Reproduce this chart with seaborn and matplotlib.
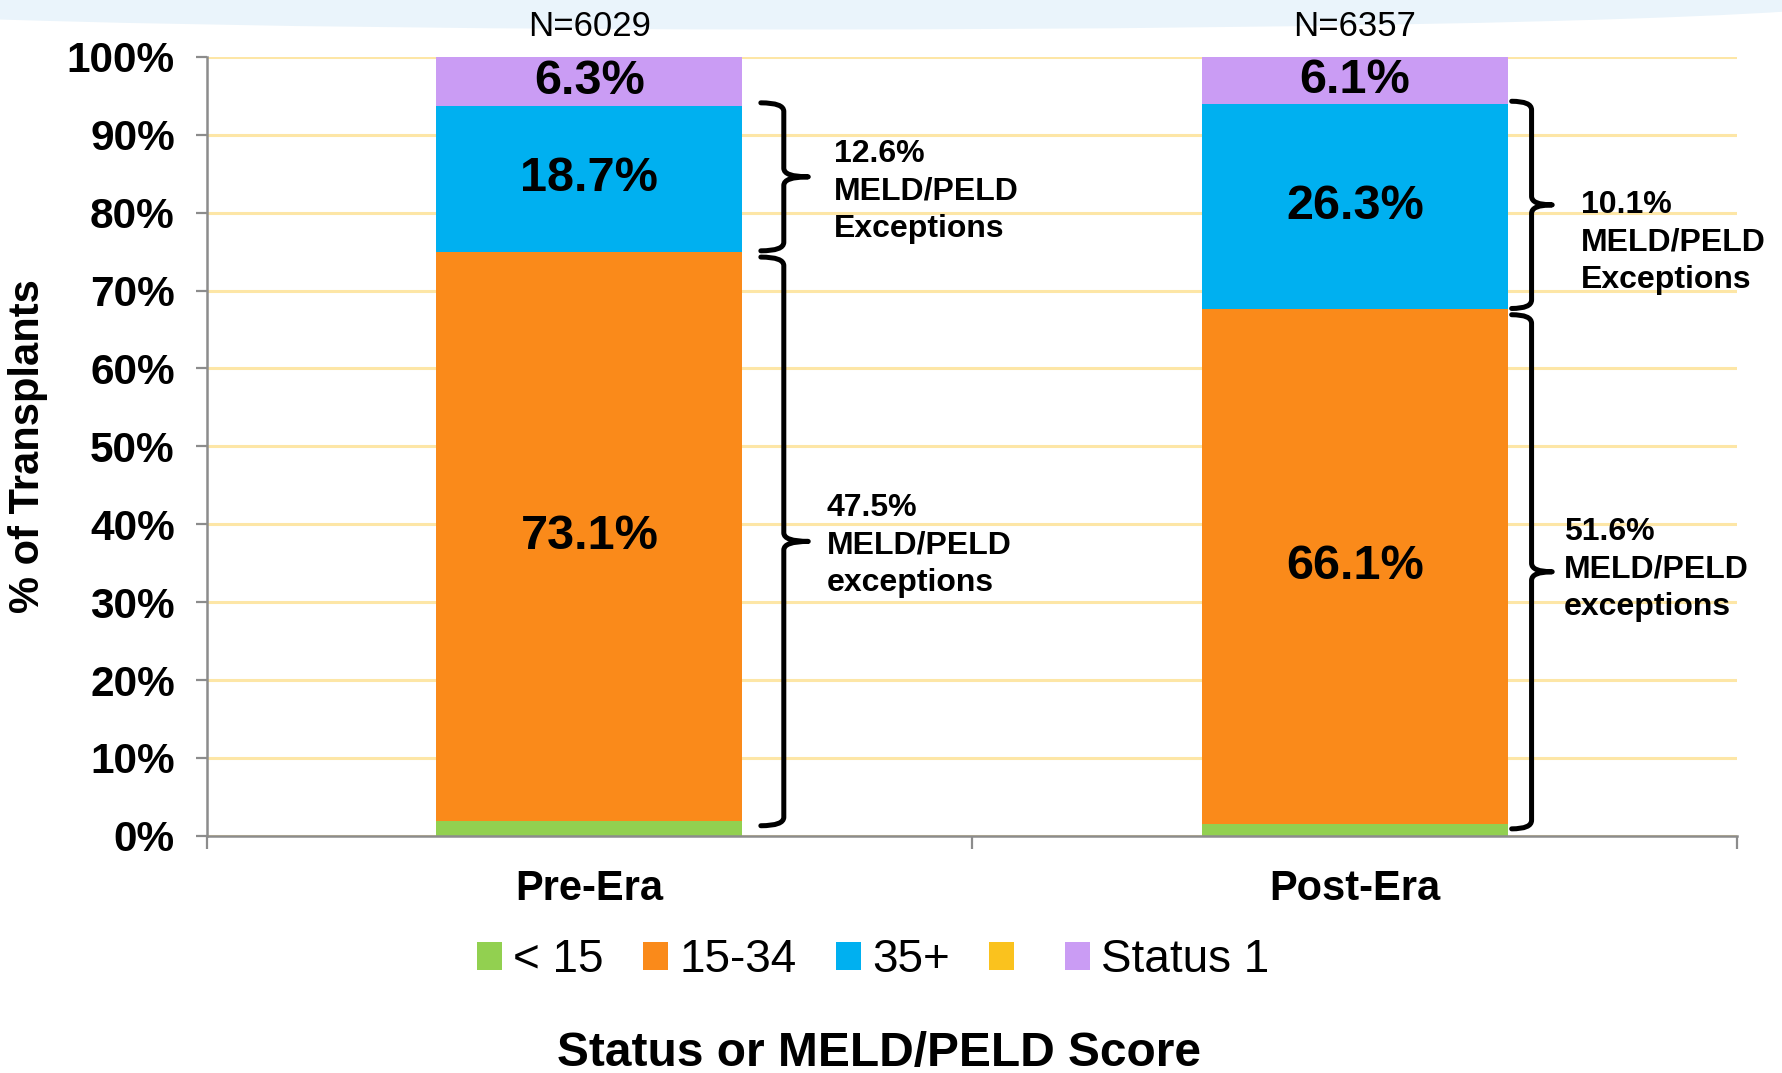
import numpy as np
import pandas as pd
import seaborn as sns
import matplotlib.pyplot as plt
from matplotlib.path import Path
from matplotlib.patches import PathPatch, Ellipse, Patch
from matplotlib.ticker import FuncFormatter

# data
eras = ["Pre-Era", "Post-Era"]
n_labels = ["N=6029", "N=6357"]
series = ["< 15", "15-34", "35+", "", "Status 1"]
colors = ["#92D050", "#FA8A1A", "#00B0F0", "#FAC21E", "#CA9CF4"]
under_15 = [1.9, 1.5]
meld_15_34 = [73.1, 66.1]
meld_35_plus = [18.7, 26.3]
unnamed_band = [0.0, 0.0]
status_1 = [6.3, 6.1]
upper_notes = ["12.6%\nMELD/PELD\nExceptions", "10.1%\nMELD/PELD\nExceptions"]
lower_notes = ["47.5%\nMELD/PELD\nexceptions", "51.6%\nMELD/PELD\nexceptions"]

# brace / note layout (x in category units, y shift in %)
brace_x = [(0.224, 0.254, 0.286), (0.205, 0.231, 0.258)]
upper_note_pos = [(0.319, -1.9), (0.295, -4.8)]
lower_note_pos = [(0.310, -0.5), (0.273, 0.3)]

sns.set_theme(style="white")
plt.rcParams["font.family"] = ["Liberation Sans", "DejaVu Sans"]
plt.rcParams["text.color"] = "black"
plt.rcParams["axes.labelcolor"] = "black"
plt.rcParams["xtick.labelcolor"] = "black"
plt.rcParams["ytick.labelcolor"] = "black"

fig = plt.figure(figsize=(17.82, 10.73), dpi=100)
fig.patches.append(Ellipse((0.45, 1.0), 1.2, 0.055, transform=fig.transFigure,
                           facecolor="#EAF4FB", edgecolor="none", zorder=-5))
ax = fig.add_axes([0.116, 0.221, 0.859, 0.726])
ax.set_facecolor("none")

layers = [under_15, meld_15_34, meld_35_plus, unnamed_band, status_1]
bottoms = np.zeros(len(eras))
containers = []
for name, vals, col in zip(series, layers, colors):
    df = pd.DataFrame({"era": eras, "pct": vals})
    sns.barplot(data=df, x="era", y="pct", color=col, saturation=1, width=0.4,
                bottom=bottoms.copy(), errorbar=None, edgecolor="none",
                linewidth=0, ax=ax, zorder=3)
    containers.append(ax.containers[-1])
    bottoms = bottoms + np.array(vals)

# segment labels
for idx in (1, 2, 4):
    ax.bar_label(containers[idx], labels=[f"{v:.1f}%" for v in layers[idx]],
                 label_type="center", fontsize=35, fontweight="bold",
                 color="black", zorder=5)

# N above the bars
for i, n in enumerate(n_labels):
    ax.text(i, 102.7, n, ha="center", va="baseline", fontsize=25, clip_on=False)


def draw_brace(x0, xv, xt, top, bot, r=1.1):
    mid = (top + bot) / 2
    verts = [(x0, top), (xv, top), (xv, top - r),
             (xv, mid + r), (xv, mid), (xt, mid),
             (xv, mid), (xv, mid - r),
             (xv, bot + r), (xv, bot), (x0, bot)]
    codes = [Path.MOVETO, Path.CURVE3, Path.CURVE3,
             Path.LINETO, Path.CURVE3, Path.CURVE3,
             Path.CURVE3, Path.CURVE3,
             Path.LINETO, Path.CURVE3, Path.CURVE3]
    ax.add_patch(PathPatch(Path(verts, codes), facecolor="none", edgecolor="black",
                           lw=3.6, capstyle="round", joinstyle="round",
                           clip_on=False, zorder=4))
    return mid


for i in range(len(eras)):
    x0, xv, xt = brace_x[i]
    orange_bot = under_15[i]
    orange_top = under_15[i] + meld_15_34[i]
    blue_top = orange_top + meld_35_plus[i]
    mid_up = draw_brace(x0 + i, xv + i, xt + i, blue_top + 0.4, orange_top + 0.1)
    mid_lo = draw_brace(x0 + i, xv + i, xt + i, orange_top - 0.7, orange_bot - 0.6)
    ux, uy = upper_note_pos[i]
    lx, ly = lower_note_pos[i]
    ax.text(i + ux, mid_up + uy, upper_notes[i], ha="left", va="center",
            fontsize=23, fontweight="bold", linespacing=1.33, zorder=5)
    ax.text(i + lx, mid_lo + ly, lower_notes[i], ha="left", va="center",
            fontsize=23, fontweight="bold", linespacing=1.33, zorder=5)

# axes styling
ax.set_ylim(0, 100)
ax.set_xlim(-0.5, 1.5)
ax.set_yticks(np.arange(0, 101, 10))
ax.yaxis.set_major_formatter(FuncFormatter(lambda v, p: f"{int(v)}%"))
ax.yaxis.grid(True, color="#FDE6A6", lw=2.2, zorder=0)
ax.xaxis.grid(False)
ax.set_axisbelow(True)
for s in ("top", "right"):
    ax.spines[s].set_visible(False)
for s in ("left", "bottom"):
    ax.spines[s].set_color("#8C8C8C")
    ax.spines[s].set_linewidth(1.8)
    ax.spines[s].set_zorder(6)

ax.tick_params(axis="y", which="major", direction="out", length=8, width=1.6,
               color="#8C8C8C", labelsize=30.5, pad=15, left=True)
for lab in ax.get_yticklabels():
    lab.set_fontweight("bold")

ax.set_xticks([0, 1])
ax.set_xticklabels(eras, fontsize=30, fontweight="bold")
ax.set_xticks([-0.5, 0.5, 1.5], minor=True)
ax.tick_params(axis="x", which="major", length=0, pad=24)
ax.tick_params(axis="x", which="minor", direction="out", length=9, width=1.6,
               color="#8C8C8C", bottom=True)

ax.set_ylabel("% of Transplants", fontsize=30, fontweight="bold")
ax.yaxis.set_label_coords(-0.104, 0.5)
ax.set_xlabel("Status or MELD/PELD Score", fontsize=34.5, fontweight="bold")
ax.xaxis.set_label_coords(0.439, -0.25)

handles = [Patch(facecolor=c, edgecolor="none") for c in colors]
fig.legend(handles, series, loc="center", bbox_to_anchor=(0.49, 0.105), ncol=5,
           frameon=False, fontsize=33, handlelength=0.55, handleheight=0.55,
           handletextpad=0.25, columnspacing=0.85)

fig.savefig("out.png", dpi=100)
